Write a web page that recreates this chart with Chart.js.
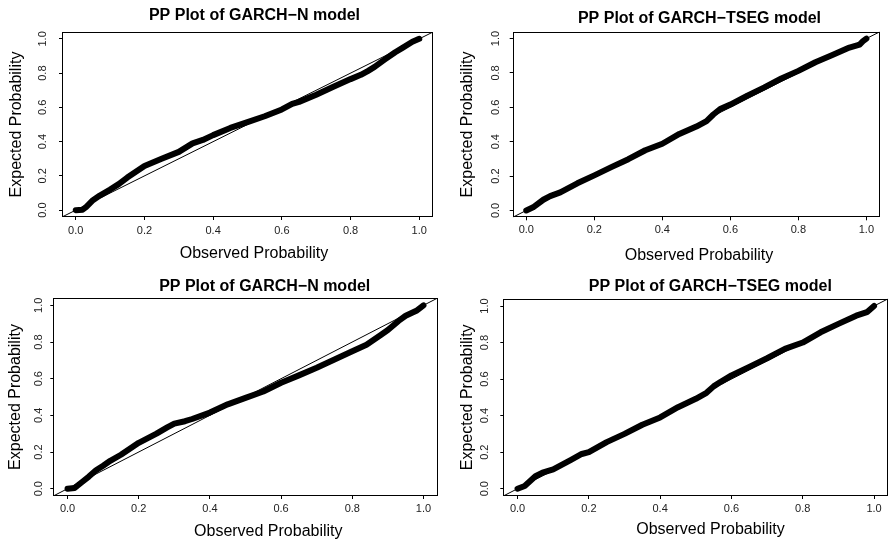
<!DOCTYPE html>
<html lang="en">
<head>
<meta charset="UTF-8" />
<title>PP Plots - GARCH-N vs GARCH-TSEG</title>
<script src="https://cdn.jsdelivr.net/npm/chart.js@4.4.1/dist/chart.umd.min.js"></script>
<style>
  html, body { margin: 0; padding: 0; background: #fff; }
  #page { position: relative; width: 889px; height: 544px; overflow: hidden; }
  .panel { position: absolute; }
  .panel canvas { display: block; }
</style>
</head>
<body>
<div id="page">
  <div class="panel" style="left:0px;top:0px"><canvas id="c1" width="445" height="272"></canvas></div>
  <div class="panel" style="left:445px;top:0px"><canvas id="c2" width="444" height="272"></canvas></div>
  <div class="panel" style="left:0px;top:272px"><canvas id="c3" width="445" height="272"></canvas></div>
  <div class="panel" style="left:445px;top:272px"><canvas id="c4" width="444" height="272"></canvas></div>
</div>

<script>
// axis setup (R style: range extended 4% on each side)
const TICKS = [0, 0.2, 0.4, 0.6, 0.8, 1.0];
const AXIS_MIN = -0.04;
const AXIS_MAX = 1.04;
const REF_LINE = [AXIS_MIN, AXIS_MAX]; // y = x reference line

const X_LABEL = 'Observed Probability';
const Y_LABEL = 'Expected Probability';
const titles = [
  'PP Plot of GARCH\u2212N model',
  'PP Plot of GARCH\u2212TSEG model',
  'PP Plot of GARCH\u2212N model',
  'PP Plot of GARCH\u2212TSEG model'
];

// top-left, GARCH-N
const obs1 = [0, 0.02, 0.03, 0.05, 0.07, 0.10, 0.125, 0.15, 0.20, 0.25, 0.30, 0.34, 0.37, 0.40, 0.45, 0.50, 0.55, 0.60, 0.63, 0.65, 0.70, 0.75, 0.80, 0.83, 0.85, 0.87, 0.90, 0.93, 0.95, 0.98, 1.0];
const exp1 = [0, 0.003, 0.018, 0.058, 0.085, 0.12, 0.152, 0.19, 0.258, 0.30, 0.34, 0.39, 0.41, 0.438, 0.48, 0.514, 0.548, 0.588, 0.62, 0.632, 0.674, 0.72, 0.765, 0.79, 0.812, 0.836, 0.88, 0.922, 0.946, 0.983, 1.0];

// top-right, GARCH-TSEG
const obs2 = [0, 0.02, 0.05, 0.07, 0.10, 0.15, 0.20, 0.25, 0.30, 0.35, 0.40, 0.45, 0.50, 0.53, 0.55, 0.57, 0.60, 0.65, 0.70, 0.75, 0.80, 0.85, 0.90, 0.95, 0.98, 0.99, 1.0];
const exp2 = [0, 0.018, 0.062, 0.083, 0.105, 0.158, 0.204, 0.252, 0.298, 0.35, 0.388, 0.445, 0.488, 0.52, 0.558, 0.59, 0.616, 0.668, 0.716, 0.768, 0.812, 0.862, 0.904, 0.948, 0.965, 0.985, 1.0];

// bottom-left, GARCH-N
const obs3 = [0, 0.02, 0.04, 0.06, 0.08, 0.10, 0.12, 0.15, 0.20, 0.25, 0.28, 0.30, 0.33, 0.35, 0.40, 0.45, 0.50, 0.55, 0.60, 0.65, 0.70, 0.75, 0.80, 0.84, 0.88, 0.90, 0.93, 0.95, 0.98, 1.0];
const exp3 = [0, 0.004, 0.035, 0.066, 0.1, 0.125, 0.152, 0.185, 0.25, 0.30, 0.334, 0.355, 0.368, 0.38, 0.415, 0.46, 0.495, 0.53, 0.578, 0.618, 0.66, 0.705, 0.75, 0.785, 0.838, 0.865, 0.915, 0.943, 0.97, 1.0];

// bottom-right, GARCH-TSEG
const obs4 = [0, 0.02, 0.05, 0.07, 0.10, 0.15, 0.18, 0.20, 0.25, 0.30, 0.35, 0.40, 0.45, 0.50, 0.53, 0.55, 0.57, 0.60, 0.65, 0.70, 0.75, 0.80, 0.85, 0.90, 0.95, 0.98, 1.0];
const exp4 = [0, 0.015, 0.068, 0.088, 0.106, 0.158, 0.19, 0.20, 0.255, 0.30, 0.35, 0.39, 0.446, 0.492, 0.525, 0.56, 0.585, 0.62, 0.667, 0.714, 0.765, 0.80, 0.856, 0.902, 0.947, 0.966, 1.0];

const FONT = '"Liberation Sans", Arial, Helvetica, sans-serif';
const TICK_SIZE = 11;
const LABEL_SIZE = 16;
const TICK_LEN = 3;

// width of the widest tick label, needed to center rotated y labels
const meas = document.createElement('canvas').getContext('2d');
meas.font = TICK_SIZE + 'px ' + FONT;
const tickW = meas.measureText('0.0').width;

// page positions (px) of each panel: canvas rect, plot box, text anchors
const panels = [
  { id: 'c1', cx: 0,   cy: 0,   w: 445, h: 272, box: [62, 32, 433, 217],
    titleAt: [254.5, 15.8], xlabAt: [254, 254], ylabX: 16.7, yTickOff: 19.5, xTickOff: 13.7,
    title: titles[0], obs: obs1, exp: exp1 },
  { id: 'c2', cx: 445, cy: 0,   w: 444, h: 272, box: [512.7, 31.7, 880, 217.3],
    titleAt: [699.5, 18.3], xlabAt: [699, 256], ylabX: 468, yTickOff: 17, xTickOff: 12.7,
    title: titles[1], obs: obs2, exp: exp2 },
  { id: 'c3', cx: 0,   cy: 272, w: 445, h: 272, box: [53.3, 298, 437.7, 496],
    titleAt: [264.7, 286.5], xlabAt: [268.3, 532], ylabX: 15.3, yTickOff: 14.1, xTickOff: 13.3,
    title: titles[2], obs: obs3, exp: exp3 },
  { id: 'c4', cx: 445, cy: 272, w: 444, h: 272, box: [503.3, 298.7, 888.3, 496],
    titleAt: [710.3, 286.2], xlabAt: [710.5, 529.3], ylabX: 467.3, yTickOff: 18.8, xTickOff: 13.3,
    title: titles[3], obs: obs4, exp: exp4 }
];

// box around the plot region + main title + x axis label
const frameAndText = {
  id: 'frameAndText',
  afterDraw(chart, args, opts) {
    const { ctx, chartArea: a } = chart;
    ctx.save();
    ctx.strokeStyle = '#000';
    ctx.lineWidth = 1;
    const l = Math.round(a.left) + 0.5, t = Math.round(a.top) + 0.5;
    const r = Math.round(a.right) - 0.5, b = Math.round(a.bottom) - 0.5;
    ctx.strokeRect(l, t, r - l, b - t);
    ctx.fillStyle = '#000';
    ctx.textAlign = 'center';
    ctx.textBaseline = 'middle';
    ctx.font = 'bold ' + LABEL_SIZE + 'px ' + FONT;
    ctx.fillText(opts.title, opts.titleX, opts.titleY);
    ctx.font = LABEL_SIZE + 'px ' + FONT;
    ctx.fillText(X_LABEL, opts.xlabX, opts.xlabY);
    ctx.restore();
  }
};

function makePanel(p) {
  const [bl, bt, br, bb] = p.box;
  const yAxisW = bl - p.cx;
  const xAxisH = p.cy + p.h - bb;
  const labelHalf = LABEL_SIZE * 1.2 / 2;

  const tickOpts = {
    callback: v => v.toFixed(1),
    color: '#222',
    font: { family: FONT, size: TICK_SIZE },
    autoSkip: false
  };
  const gridOpts = { drawOnChartArea: false, drawTicks: true, tickLength: TICK_LEN, color: '#000', lineWidth: 1 };
  const setTicks = s => { s.ticks = TICKS.map(v => ({ value: v })); };

  new Chart(document.getElementById(p.id), {
    type: 'scatter',
    data: {
      datasets: [
        {
          label: 'PP',
          data: p.obs.map((x, i) => ({ x: x, y: p.exp[i] })),
          showLine: true,
          borderColor: '#000',
          backgroundColor: '#000',
          borderWidth: 6,
          borderCapStyle: 'round',
          borderJoinStyle: 'round',
          pointRadius: 0,
          tension: 0
        },
        {
          label: 'y = x',
          data: REF_LINE.map(v => ({ x: v, y: v })),
          showLine: true,
          borderColor: '#000',
          borderWidth: 1,
          pointRadius: 0
        }
      ]
    },
    options: {
      responsive: false,
      animation: false,
      events: [],
      layout: { padding: { left: 0, top: bt - p.cy, right: p.cx + p.w - br, bottom: 0 } },
      scales: {
        x: {
          type: 'linear',
          min: AXIS_MIN,
          max: AXIS_MAX,
          afterBuildTicks: setTicks,
          afterFit: s => { s.height = xAxisH; },
          ticks: Object.assign({}, tickOpts, { maxRotation: 0, padding: p.xTickOff - TICK_LEN - TICK_SIZE * 1.2 / 2 }),
          grid: gridOpts,
          border: { display: false }
        },
        y: {
          type: 'linear',
          min: AXIS_MIN,
          max: AXIS_MAX,
          afterBuildTicks: setTicks,
          afterFit: s => { s.width = yAxisW; },
          ticks: Object.assign({}, tickOpts, {
            minRotation: 90, maxRotation: 90, crossAlign: 'center',
            padding: p.yTickOff - TICK_LEN - tickW / 2
          }),
          grid: gridOpts,
          border: { display: false },
          title: {
            display: true,
            text: Y_LABEL,
            color: '#000',
            font: { family: FONT, size: LABEL_SIZE },
            padding: { top: p.ylabX - p.cx - labelHalf, bottom: 0 }
          }
        }
      },
      plugins: {
        legend: { display: false },
        tooltip: { enabled: false },
        frameAndText: {
          title: p.title,
          titleX: p.titleAt[0] - p.cx,
          titleY: p.titleAt[1] - p.cy,
          xlabX: p.xlabAt[0] - p.cx,
          xlabY: p.xlabAt[1] - p.cy
        }
      }
    },
    plugins: [frameAndText]
  });
}

panels.forEach(makePanel);
</script>
</body>
</html>
